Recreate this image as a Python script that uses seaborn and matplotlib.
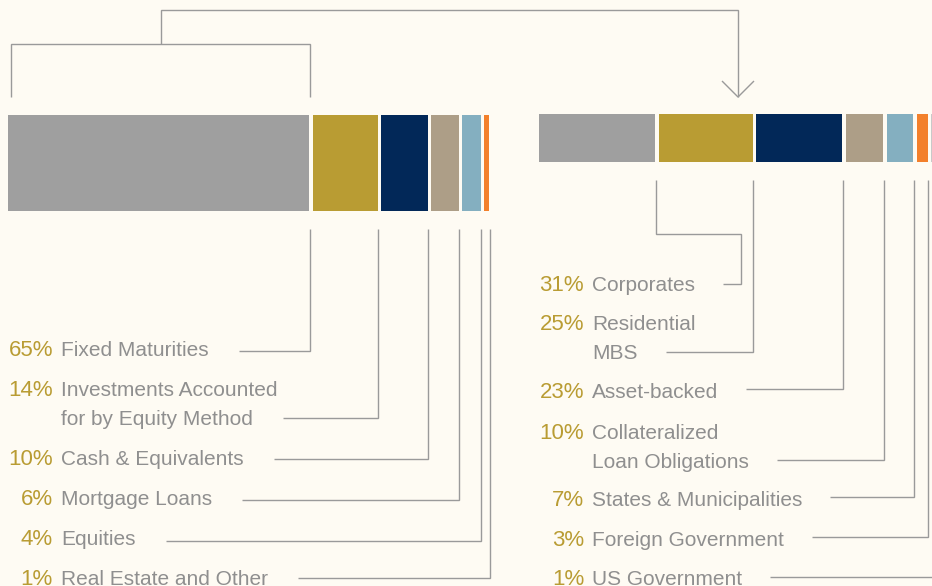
import matplotlib

matplotlib.use("Agg")

import matplotlib.pyplot as plt
import numpy as np
import seaborn as sns

# total investments (left bar) and fixed maturities breakdown (right bar)
left_pcts = [65, 14, 10, 6, 4, 1]
left_labels = [
    "Fixed Maturities",
    "Investments Accounted\nfor by Equity Method",
    "Cash & Equivalents",
    "Mortgage Loans",
    "Equities",
    "Real Estate and Other",
]
right_pcts = [31, 25, 23, 10, 7, 3, 1]
right_labels = [
    "Corporates",
    "Residential\nMBS",
    "Asset-backed",
    "Collateralized\nLoan Obligations",
    "States & Municipalities",
    "Foreign Government",
    "US Government",
]
left_colors = ["#9f9f9f", "#b99c33", "#022858", "#ad9e87", "#84afc0", "#f3802b"]
right_colors = left_colors + ["#c9c9c9"]

BG = "#fefbf3"
LINE = "#9a9a9a"
GOLD = "#b99c33"
TXT = "#8f8f8f"
FS = 15
FS_PCT = 16
LINE_GAP = 29
GAP = 3.5

sns.set_theme(style="white")
plt.rcParams["font.family"] = ["Liberation Sans", "DejaVu Sans"]

fig = plt.figure(figsize=(9.32, 5.86), dpi=100, facecolor=BG)
ax = fig.add_axes([0, 0, 1, 1])
ax.set_xlim(0, 932)
ax.set_ylim(586, 0)
ax.axis("off")


def draw_bar(pcts, colors, x0, x1, top, height):
    n = len(pcts)
    scale = (x1 - x0 - (n - 1) * GAP) / sum(pcts)
    widths = np.array(pcts) * scale
    lefts = x0 + np.concatenate([[0], np.cumsum(widths)[:-1]]) + np.arange(n) * GAP
    ax.barh(top + height / 2, widths, left=lefts, height=height,
            color=colors, linewidth=0)
    return lefts + widths


def draw_labels(pcts, labels, x_pct, x_lab, baselines):
    last = []
    for p, lab, yb in zip(pcts, labels, baselines):
        lines = lab.split("\n")
        y0 = yb - (len(lines) - 1) * LINE_GAP
        ax.text(x_pct, y0, f"{p}%", ha="right", va="baseline", color=GOLD, fontsize=FS_PCT)
        for k, line in enumerate(lines):
            t = ax.text(x_lab, y0 + k * LINE_GAP, line, ha="left", va="baseline",
                        color=TXT, fontsize=FS)
        last.append(t)
    return last


def text_right(t):
    bb = t.get_window_extent(fig.canvas.get_renderer())
    return ax.transData.inverted().transform((bb.x1, bb.y0))[0]


def path(points):
    xs, ys = zip(*points)
    ax.plot(xs, ys, color=LINE, lw=1.0, solid_capstyle="butt", solid_joinstyle="miter")


left_edges = draw_bar(left_pcts, left_colors, 8, 489, 115, 96)
right_edges = draw_bar(right_pcts, right_colors, 539, 935, 114, 48)

left_base = [356, 425, 465, 505, 545, 585]
right_base = [291, 359, 398, 468, 506, 546, 585]
left_lead = [351, 418, 459, 500, 541, 578]
right_lead = [284, 352, 389, 460, 497, 537, 577]
left_texts = draw_labels(left_pcts, left_labels, 53, 61, left_base)
right_texts = draw_labels(right_pcts, right_labels, 584, 592, right_base)

fig.canvas.draw()

# bracket over fixed maturities, arrow to the breakdown bar
bx0, bx1 = 11, left_edges[0] + 1
bmid = (bx0 + bx1) / 2
path([(bx0, 97), (bx0, 44), (bx1, 44), (bx1, 97)])
path([(bmid, 44), (bmid, 10), (738, 10), (738, 97)])
path([(722, 81), (738, 97), (754, 81)])

for t, edge, y in zip(left_texts, left_edges, left_lead):
    path([(text_right(t) + 30, y), (edge + 0.5, y), (edge + 0.5, 229)])

for i, (t, edge, y) in enumerate(zip(right_texts, right_edges, right_lead)):
    xs = text_right(t) + 28
    if i == 0:
        path([(xs, y), (741, y), (741, 234), (edge + 0.5, 234), (edge + 0.5, 180)])
    else:
        path([(xs, y), (edge + 0.5, y), (edge + 0.5, 180)])

fig.savefig("out.png", dpi=100, facecolor=BG)
plt.close(fig)
